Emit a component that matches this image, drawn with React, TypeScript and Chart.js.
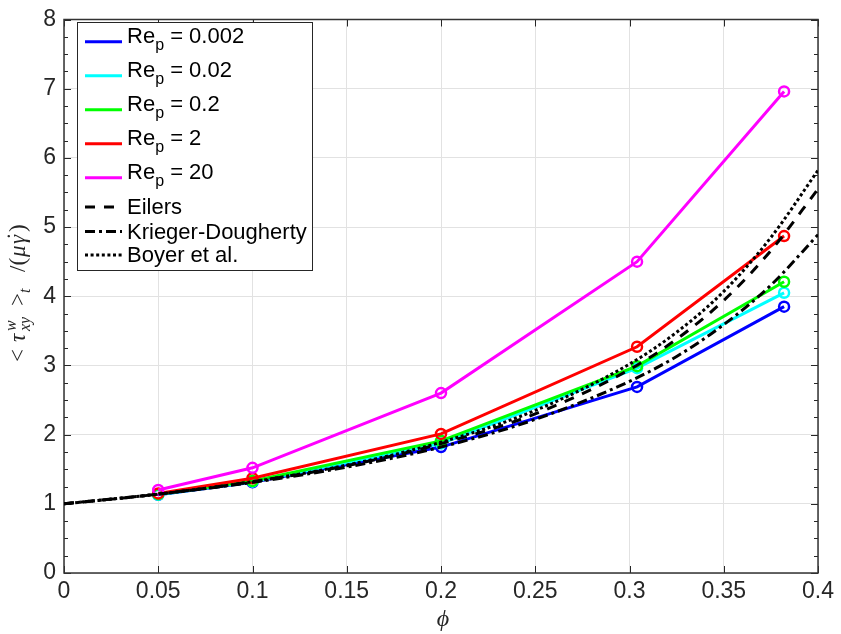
import React, { useEffect, useRef } from 'react';
import { Chart, registerables } from 'chart.js';

Chart.register(...registerables);

// ---------- data ----------
const phiPoints = [0.05, 0.1, 0.2, 0.304, 0.382];
const reLabels = ['0.002', '0.02', '0.2', '2', '20'];
const reColors = ['#0000ff', '#00ffff', '#00ff00', '#ff0000', '#ff00ff'];
const rep0002 = [1.13, 1.31, 1.82, 2.69, 3.85];
const rep002 = [1.13, 1.32, 1.87, 2.96, 4.05];
const rep02 = [1.14, 1.33, 1.91, 2.99, 4.21];
const rep2 = [1.15, 1.37, 2.01, 3.27, 4.87];
const rep20 = [1.2, 1.52, 2.6, 4.5, 6.96];

const curvePhi = [0, 0.05, 0.1, 0.15, 0.2, 0.25, 0.3, 0.325, 0.35, 0.375, 0.4];
const eilers = [1, 1.14, 1.32, 1.55, 1.87, 2.3, 2.94, 3.38, 3.94, 4.66, 5.55];
const kriegerDougherty = [1, 1.14, 1.31, 1.53, 1.82, 2.22, 2.77, 3.13, 3.59, 4.16, 4.89];
const boyer = [1, 1.14, 1.32, 1.56, 1.89, 2.35, 3.02, 3.48, 4.07, 4.85, 5.82];

const xTickValues = [0, 0.05, 0.1, 0.15, 0.2, 0.25, 0.3, 0.35, 0.4];
const xTickLabels = ['0', '0.05', '0.1', '0.15', '0.2', '0.25', '0.3', '0.35', '0.4'];
const yTickValues = [0, 1, 2, 3, 4, 5, 6, 7, 8];
const yTickLabels = ['0', '1', '2', '3', '4', '5', '6', '7', '8'];

const curveNames = ['Eilers', 'Krieger-Dougherty', 'Boyer et al.'];
const curveDashes = [[10, 9], [10, 4, 3, 4], [3, 2.6]];

const reSeries = [rep0002, rep002, rep02, rep2, rep20];
const curveSeries = [eilers, kriegerDougherty, boyer];

const AXIS_COLOR = '#262626';
const GRID_COLOR = '#e2e2e2';
const SANS = "'Liberation Sans', Arial, Helvetica, sans-serif";
const SERIF = "'Liberation Serif', 'Times New Roman', serif";

const boxPlugin = {
  id: 'matlabBox',
  beforeDatasetsDraw(chart: any) {
    const { ctx, chartArea, scales } = chart;
    const { left, right, top, bottom } = chartArea;
    const xs = scales.x;
    const ys = scales.y;
    ctx.save();
    ctx.strokeStyle = AXIS_COLOR;
    ctx.lineWidth = 1;
    ctx.beginPath();
    for (const v of xTickValues) {
      const px = Math.round(xs.getPixelForValue(v)) + 0.5;
      ctx.moveTo(px, bottom);
      ctx.lineTo(px, bottom - 7);
      ctx.moveTo(px, top);
      ctx.lineTo(px, top + 7);
    }
    const yMin = yTickValues[0];
    const yMax = yTickValues[yTickValues.length - 1];
    for (let k = 0; k <= (yMax - yMin) * 4; k++) {
      const v = yMin + k * 0.25;
      const len = k % 4 === 0 ? 7 : 4;
      const py = Math.round(ys.getPixelForValue(v)) + 0.5;
      ctx.moveTo(left, py);
      ctx.lineTo(left + len, py);
      ctx.moveTo(right, py);
      ctx.lineTo(right - len, py);
    }
    ctx.stroke();
    ctx.lineWidth = 1.5;
    ctx.strokeStyle = '#333333';
    ctx.strokeRect(left, top, right - left, bottom - top);
    ctx.restore();
  },
};

export default function App() {
  const canvasRef = useRef<HTMLCanvasElement>(null);

  useEffect(() => {
    const datasets: any[] = [];
    reSeries.forEach((vals, i) => {
      datasets.push({
        label: 'Re_p = ' + reLabels[i],
        data: phiPoints.map((x, j) => ({ x, y: vals[j] })),
        borderColor: reColors[i],
        backgroundColor: 'transparent',
        borderWidth: 3,
        pointRadius: 5,
        pointBorderWidth: 2.5,
        pointBorderColor: reColors[i],
        pointBackgroundColor: 'transparent',
        tension: 0,
        order: 10 - i,
      });
    });
    curveSeries.forEach((vals, i) => {
      datasets.push({
        label: curveNames[i],
        data: curvePhi.map((x, j) => ({ x, y: vals[j] })),
        borderColor: '#000000',
        backgroundColor: 'transparent',
        borderWidth: 3,
        borderDash: curveDashes[i],
        pointRadius: 0,
        tension: 0.4,
        cubicInterpolationMode: 'monotone',
        order: 3 - i,
      });
    });

    const chart = new Chart(canvasRef.current as HTMLCanvasElement, {
      type: 'line',
      data: { datasets },
      options: {
        responsive: false,
        animation: false,
        layout: { padding: { left: 0, right: 19, top: 12, bottom: 0 } },
        plugins: {
          legend: { display: false },
          tooltip: { enabled: false },
        },
        scales: {
          x: {
            type: 'linear',
            min: 0,
            max: 0.4,
            afterBuildTicks: (scale: any) => {
              scale.ticks = xTickValues.map((v) => ({ value: v }));
            },
            afterFit: (scale: any) => {
              scale.height = 61;
            },
            ticks: {
              callback: (_v: any, i: number) => xTickLabels[i],
              color: AXIS_COLOR,
              font: { family: SANS, size: 23, lineHeight: 1 },
              padding: 7,
              maxRotation: 0,
              autoSkip: false,
            },
            grid: { color: GRID_COLOR, lineWidth: 1, drawTicks: false },
            border: { display: false },
          },
          y: {
            type: 'linear',
            min: 0,
            max: 8,
            afterBuildTicks: (scale: any) => {
              scale.ticks = yTickValues.map((v) => ({ value: v }));
            },
            afterFit: (scale: any) => {
              scale.width = 64;
            },
            ticks: {
              callback: (_v: any, i: number) => yTickLabels[i],
              color: AXIS_COLOR,
              font: { family: SANS, size: 23, lineHeight: 1 },
              padding: 8,
              autoSkip: false,
            },
            grid: { color: GRID_COLOR, lineWidth: 1, drawTicks: false },
            border: { display: false },
          },
        },
      },
      plugins: [boxPlugin],
    } as any);
    return () => chart.destroy();
  }, []);

  const reRowLine = [41.7, 75.7, 109.7, 143.7, 177.7];
  const curveRowLine = [207, 231.5, 255];

  return (
    <div style={{ position: 'fixed', left: 0, top: 0, width: 841, height: 634, background: '#ffffff' }}>
      <canvas ref={canvasRef} width={841} height={634} style={{ display: 'block' }} />
      <svg
        width={841}
        height={634}
        style={{ position: 'absolute', left: 0, top: 0, pointerEvents: 'none' }}
      >
        {/* legend */}
        <rect x={77.5} y={22.5} width={235} height={248} fill="#ffffff" stroke={AXIS_COLOR} strokeWidth={1} />
        {reLabels.map((lab, i) => (
          <g key={'re' + i}>
            <line x1={85} x2={122} y1={reRowLine[i]} y2={reRowLine[i]} stroke={reColors[i]} strokeWidth={3} />
            <text x={127} y={reRowLine[i] + 1.6} fontFamily={SANS} fontSize={22} fill="#000">
              Re
              <tspan fontSize={16} dy={7}>p</tspan>
              <tspan dy={-7}>{' = ' + lab}</tspan>
            </text>
          </g>
        ))}
        {curveNames.map((name, i) => (
          <g key={'c' + i}>
            <line
              x1={85}
              x2={122}
              y1={curveRowLine[i]}
              y2={curveRowLine[i]}
              stroke="#000"
              strokeWidth={3}
              strokeDasharray={curveDashes[i].join(' ')}
            />
            <text x={127} y={curveRowLine[i] + 7} fontFamily={SANS} fontSize={22} fill="#000">
              {name}
            </text>
          </g>
        ))}
        {/* x axis title */}
        <text x={443} y={626} textAnchor="middle" fontFamily={SERIF} fontStyle="italic" fontSize={24} fill={AXIS_COLOR}>
          ϕ
        </text>
        {/* y axis title */}
        <g transform="translate(25,362) rotate(-90)" fill={AXIS_COLOR} fontFamily={SERIF} fontSize={23}>
          <text x={0} y={0}>&lt;</text>
          <text x={20} y={0} fontStyle="italic">τ</text>
          <text x={31} y={-9} fontStyle="italic" fontSize={16}>w</text>
          <text x={31} y={5} fontStyle="italic" fontSize={16}>xy</text>
          <text x={56} y={0}>&gt;</text>
          <text x={69} y={5} fontStyle="italic" fontSize={16}>t</text>
          <text x={90} y={0}>/(</text>
          <text x={105} y={0} fontStyle="italic">μ</text>
          <text x={118} y={0} fontStyle="italic">γ</text>
          <text x={122} y={-2}>˙</text>
          <text x={130} y={0}>)</text>
        </g>
      </svg>
    </div>
  );
}
